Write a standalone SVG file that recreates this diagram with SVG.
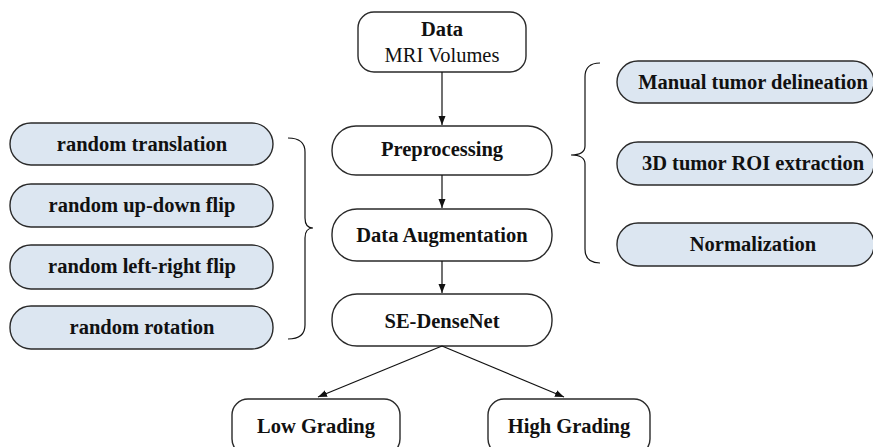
<svg xmlns="http://www.w3.org/2000/svg" width="873" height="447" viewBox="0 0 873 447">
<defs>
<marker id="arr" markerWidth="10" markerHeight="8" refX="9" refY="4" orient="auto" markerUnits="userSpaceOnUse">
<path d="M0,0.5 L9,4 L0,7.5 Z" fill="#111"/>
</marker>
<style>
.n rect{fill:#fff;stroke:#2a2a2a;stroke-width:1.4}
.b rect{fill:#dce6f1;stroke:#2a2a2a;stroke-width:1.4}
text{font-family:"Liberation Serif","Times New Roman",serif;font-size:20.5px;fill:#111;text-anchor:middle}
.bold{font-weight:bold}
.c line,.c path{stroke:#111;stroke-width:1.2;fill:none}
</style>
</defs>
<rect width="873" height="447" fill="#fff"/>
<g id="data" class="n"><rect x="358" y="12" width="168" height="60" rx="16"/><text x="442" y="36" class="bold">Data</text><text x="442" y="62">MRI Volumes</text></g>
<g id="preprocessing" class="n"><rect x="332" y="126" width="220" height="49" rx="24"/><text x="442" y="155.5" class="bold">Preprocessing</text></g>
<g id="augmentation" class="n"><rect x="332" y="209" width="220" height="52" rx="25"/><text x="442" y="242" class="bold">Data Augmentation</text></g>
<g id="sedensenet" class="n"><rect x="332" y="294" width="220" height="52" rx="25"/><text x="442" y="328" class="bold">SE-DenseNet</text></g>
<g id="low" class="n"><rect x="232" y="399" width="168" height="56" rx="16"/><text x="316" y="433" class="bold">Low Grading</text></g>
<g id="high" class="n"><rect x="488" y="399" width="162" height="56" rx="16"/><text x="569" y="433" class="bold">High Grading</text></g>
<g id="translation" class="b"><rect x="10" y="123" width="263" height="42" rx="21"/><text x="142" y="150.5" class="bold">random translation</text></g>
<g id="updown" class="b"><rect x="10" y="184" width="263" height="43" rx="21"/><text x="142" y="212" class="bold">random up-down flip</text></g>
<g id="leftright" class="b"><rect x="10" y="245" width="263" height="44" rx="21"/><text x="142" y="273" class="bold">random left-right flip</text></g>
<g id="rotation" class="b"><rect x="10" y="306" width="263" height="43" rx="21"/><text x="142" y="334" class="bold">random rotation</text></g>
<g id="manual" class="b"><rect x="617" y="61" width="257" height="42" rx="21"/><text x="753" y="89" class="bold">Manual tumor delineation</text></g>
<g id="roi" class="b"><rect x="617" y="142" width="257" height="43" rx="21"/><text x="753" y="170" class="bold">3D tumor ROI extraction</text></g>
<g id="normalization" class="b"><rect x="617" y="223" width="257" height="43" rx="21"/><text x="753" y="251" class="bold">Normalization</text></g>
<g id="connectors" class="c">
<line x1="442" y1="72" x2="442" y2="125" marker-end="url(#arr)"/>
<line x1="442" y1="175" x2="442" y2="208" marker-end="url(#arr)"/>
<line x1="442" y1="261" x2="442" y2="293" marker-end="url(#arr)"/>
<line x1="442" y1="346" x2="318" y2="397" marker-end="url(#arr)"/>
<line x1="442" y1="346" x2="564" y2="397" marker-end="url(#arr)"/>
<path d="M288,138 Q305,138 305,152 L305,218 Q305,228 313,228 Q305,228 305,238 L305,325 Q305,339 288,339"/>
<path d="M600,63 Q585,63 585,77 L585,146 Q585,155 571,155 Q585,155 585,164 L585,249 Q585,263 600,263"/>
</g>
</svg>
